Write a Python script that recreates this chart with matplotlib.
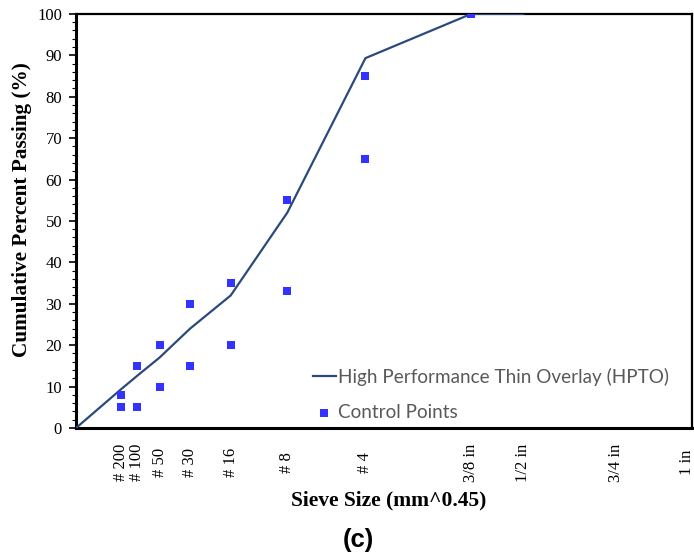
import numpy as np
import matplotlib
matplotlib.use("Agg")
import matplotlib.pyplot as plt
from matplotlib.ticker import MultipleLocator

# sieve openings (mm) and labels
sieve_labels = ['# 200', '# 100', '# 50', '# 30', '# 16', '# 8', '# 4',
                '3/8 in', '1/2 in', '3/4 in', '1 in']
sieve_mm = [0.075, 0.15, 0.3, 0.6, 1.18, 2.36, 4.75, 9.5, 12.5, 19.0, 25.0]

# HPTO gradation (cumulative % passing), starting at the origin
hpto_mm = [0.0, 0.075, 0.15, 0.3, 0.6, 1.18, 2.36, 4.75, 9.5, 12.5]
hpto_pass = [0, 9.3, 12.6, 17, 24, 32, 52, 89.3, 100, 100]

# control points (upper and lower limits)
ctrl_mm = [0.075, 0.15, 0.3, 0.6, 1.18, 2.36, 4.75, 9.5]
ctrl_upper = [8, 15, 20, 30, 35, 55, 85, 100]
ctrl_lower = [5, 5, 10, 15, 20, 33, 65, 100]

power = 0.45

fig = plt.figure(figsize=(6.94, 5.53), dpi=100)
ax = fig.add_axes([0.1095, 0.226, 0.8875, 0.749])

x_line = np.array(hpto_mm) ** power
ax.plot(x_line, hpto_pass, color='#2B4A7C', lw=1.6,
        label='High Performance Thin Overlay (HPTO)', zorder=3)

x_ctrl = np.array(ctrl_mm + ctrl_mm) ** power
y_ctrl = ctrl_upper + ctrl_lower
ax.scatter(x_ctrl, y_ctrl, marker='s', s=26, color='#3333FF', lw=0,
           label='Control Points', zorder=4)

ax.set_xlim(0, 4.29)
ax.set_ylim(0, 100)

# rotated sieve labels, centred below the axis
ax.set_xticks(np.array(sieve_mm) ** power)
ax.set_xticklabels(sieve_labels, rotation=90, fontfamily='Liberation Serif',
                   fontsize=12, va='center')
ax.tick_params(axis='x', length=0, pad=25)

ax.yaxis.set_major_locator(MultipleLocator(10))
ax.yaxis.set_minor_locator(MultipleLocator(2))
ax.tick_params(axis='y', which='major', direction='out', length=5, width=1.2,
               labelsize=12, pad=5)
ax.tick_params(axis='y', which='minor', direction='out', length=3, width=0.8)
for lbl in ax.get_yticklabels():
    lbl.set_fontfamily('Liberation Serif')

for side in ('left', 'bottom'):
    ax.spines[side].set_linewidth(2.2)
for side in ('top', 'right'):
    ax.spines[side].set_linewidth(1.6)

ax.set_xlabel('Sieve Size (mm^0.45)', fontfamily='Liberation Serif',
              fontweight='bold', fontsize=15.5)
ax.xaxis.set_label_coords(0.507, -0.152)
ax.set_ylabel('Cumulative Percent Passing (%)', fontfamily='Liberation Serif',
              fontweight='bold', fontsize=15.3)
ax.yaxis.set_label_coords(-0.071, 0.527)

leg = ax.legend(loc='center left', bbox_to_anchor=(0.384, 0.081),
                frameon=False, borderaxespad=0, borderpad=0,
                prop={'family': 'Lato', 'size': 13.55}, handlelength=1.27,
                handletextpad=0.08, labelspacing=0.95, markerscale=1.0)
for t in leg.get_texts():
    t.set_color('#595959')

fig.text(0.516, 0.0244, '(c)', ha='center', va='center',
         fontfamily='Liberation Sans', fontweight='bold', fontsize=18.5)

fig.savefig('out.png', dpi=100)
